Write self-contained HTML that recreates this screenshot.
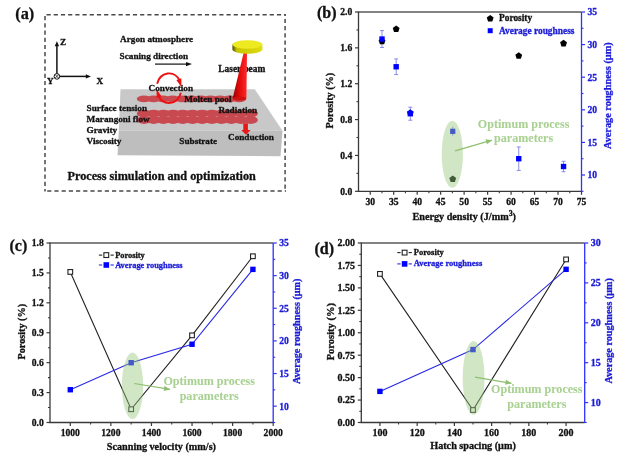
<!DOCTYPE html><html><head><meta charset="utf-8"><style>html,body{margin:0;padding:0;background:#fff;}svg{display:block;filter:blur(0.35px);}</style></head><body>
<svg width="618" height="459" viewBox="0 0 618 459">
<rect width="618" height="459" fill="#fff"/>
<line x1="358.5" y1="12" x2="581.5" y2="12" stroke="#5a5a5a" stroke-width="1.4"/>
<line x1="358.5" y1="11.5" x2="358.5" y2="191.9" stroke="#3a3a3a" stroke-width="1.3"/>
<line x1="357.9" y1="191.3" x2="581.5" y2="191.3" stroke="#3a3a3a" stroke-width="1.3"/>
<line x1="581.5" y1="12" x2="581.5" y2="191.9" stroke="#3030ff" stroke-width="1.3"/>
<line x1="355.0" y1="191.30" x2="358.5" y2="191.30" stroke="#3a3a3a" stroke-width="1.2"/>
<text x="352.3" y="194.70" text-anchor="end" font-size="9.6" font-family="&quot;Liberation Serif&quot;, serif" font-weight="bold" fill="#111" stroke="#111" stroke-width="0.3">0.0</text>
<line x1="355.0" y1="155.44" x2="358.5" y2="155.44" stroke="#3a3a3a" stroke-width="1.2"/>
<text x="352.3" y="158.84" text-anchor="end" font-size="9.6" font-family="&quot;Liberation Serif&quot;, serif" font-weight="bold" fill="#111" stroke="#111" stroke-width="0.3">0.4</text>
<line x1="355.0" y1="119.58" x2="358.5" y2="119.58" stroke="#3a3a3a" stroke-width="1.2"/>
<text x="352.3" y="122.98" text-anchor="end" font-size="9.6" font-family="&quot;Liberation Serif&quot;, serif" font-weight="bold" fill="#111" stroke="#111" stroke-width="0.3">0.8</text>
<line x1="355.0" y1="83.72" x2="358.5" y2="83.72" stroke="#3a3a3a" stroke-width="1.2"/>
<text x="352.3" y="87.12" text-anchor="end" font-size="9.6" font-family="&quot;Liberation Serif&quot;, serif" font-weight="bold" fill="#111" stroke="#111" stroke-width="0.3">1.2</text>
<line x1="355.0" y1="47.86" x2="358.5" y2="47.86" stroke="#3a3a3a" stroke-width="1.2"/>
<text x="352.3" y="51.26" text-anchor="end" font-size="9.6" font-family="&quot;Liberation Serif&quot;, serif" font-weight="bold" fill="#111" stroke="#111" stroke-width="0.3">1.6</text>
<line x1="355.0" y1="12.00" x2="358.5" y2="12.00" stroke="#3a3a3a" stroke-width="1.2"/>
<text x="352.3" y="15.40" text-anchor="end" font-size="9.6" font-family="&quot;Liberation Serif&quot;, serif" font-weight="bold" fill="#111" stroke="#111" stroke-width="0.3">2.0</text>
<line x1="356.5" y1="173.37" x2="358.5" y2="173.37" stroke="#3a3a3a" stroke-width="1.1"/>
<line x1="356.5" y1="137.51" x2="358.5" y2="137.51" stroke="#3a3a3a" stroke-width="1.1"/>
<line x1="356.5" y1="101.65" x2="358.5" y2="101.65" stroke="#3a3a3a" stroke-width="1.1"/>
<line x1="356.5" y1="65.79" x2="358.5" y2="65.79" stroke="#3a3a3a" stroke-width="1.1"/>
<line x1="356.5" y1="29.93" x2="358.5" y2="29.93" stroke="#3a3a3a" stroke-width="1.1"/>
<line x1="370.24" y1="191.3" x2="370.24" y2="194.8" stroke="#3a3a3a" stroke-width="1.2"/>
<text x="370.24" y="204.90" text-anchor="middle" font-size="9.6" font-family="&quot;Liberation Serif&quot;, serif" font-weight="bold" fill="#111" stroke="#111" stroke-width="0.3">30</text>
<line x1="393.71" y1="191.3" x2="393.71" y2="194.8" stroke="#3a3a3a" stroke-width="1.2"/>
<text x="393.71" y="204.90" text-anchor="middle" font-size="9.6" font-family="&quot;Liberation Serif&quot;, serif" font-weight="bold" fill="#111" stroke="#111" stroke-width="0.3">35</text>
<line x1="417.18" y1="191.3" x2="417.18" y2="194.8" stroke="#3a3a3a" stroke-width="1.2"/>
<text x="417.18" y="204.90" text-anchor="middle" font-size="9.6" font-family="&quot;Liberation Serif&quot;, serif" font-weight="bold" fill="#111" stroke="#111" stroke-width="0.3">40</text>
<line x1="440.66" y1="191.3" x2="440.66" y2="194.8" stroke="#3a3a3a" stroke-width="1.2"/>
<text x="440.66" y="204.90" text-anchor="middle" font-size="9.6" font-family="&quot;Liberation Serif&quot;, serif" font-weight="bold" fill="#111" stroke="#111" stroke-width="0.3">45</text>
<line x1="464.13" y1="191.3" x2="464.13" y2="194.8" stroke="#3a3a3a" stroke-width="1.2"/>
<text x="464.13" y="204.90" text-anchor="middle" font-size="9.6" font-family="&quot;Liberation Serif&quot;, serif" font-weight="bold" fill="#111" stroke="#111" stroke-width="0.3">50</text>
<line x1="487.61" y1="191.3" x2="487.61" y2="194.8" stroke="#3a3a3a" stroke-width="1.2"/>
<text x="487.61" y="204.90" text-anchor="middle" font-size="9.6" font-family="&quot;Liberation Serif&quot;, serif" font-weight="bold" fill="#111" stroke="#111" stroke-width="0.3">55</text>
<line x1="511.08" y1="191.3" x2="511.08" y2="194.8" stroke="#3a3a3a" stroke-width="1.2"/>
<text x="511.08" y="204.90" text-anchor="middle" font-size="9.6" font-family="&quot;Liberation Serif&quot;, serif" font-weight="bold" fill="#111" stroke="#111" stroke-width="0.3">60</text>
<line x1="534.55" y1="191.3" x2="534.55" y2="194.8" stroke="#3a3a3a" stroke-width="1.2"/>
<text x="534.55" y="204.90" text-anchor="middle" font-size="9.6" font-family="&quot;Liberation Serif&quot;, serif" font-weight="bold" fill="#111" stroke="#111" stroke-width="0.3">65</text>
<line x1="558.03" y1="191.3" x2="558.03" y2="194.8" stroke="#3a3a3a" stroke-width="1.2"/>
<text x="558.03" y="204.90" text-anchor="middle" font-size="9.6" font-family="&quot;Liberation Serif&quot;, serif" font-weight="bold" fill="#111" stroke="#111" stroke-width="0.3">70</text>
<line x1="581.50" y1="191.3" x2="581.50" y2="194.8" stroke="#3a3a3a" stroke-width="1.2"/>
<text x="581.50" y="204.90" text-anchor="middle" font-size="9.6" font-family="&quot;Liberation Serif&quot;, serif" font-weight="bold" fill="#111" stroke="#111" stroke-width="0.3">75</text>
<line x1="381.97" y1="191.3" x2="381.97" y2="193.3" stroke="#3a3a3a" stroke-width="1.1"/>
<line x1="405.45" y1="191.3" x2="405.45" y2="193.3" stroke="#3a3a3a" stroke-width="1.1"/>
<line x1="428.92" y1="191.3" x2="428.92" y2="193.3" stroke="#3a3a3a" stroke-width="1.1"/>
<line x1="452.39" y1="191.3" x2="452.39" y2="193.3" stroke="#3a3a3a" stroke-width="1.1"/>
<line x1="475.87" y1="191.3" x2="475.87" y2="193.3" stroke="#3a3a3a" stroke-width="1.1"/>
<line x1="499.34" y1="191.3" x2="499.34" y2="193.3" stroke="#3a3a3a" stroke-width="1.1"/>
<line x1="522.82" y1="191.3" x2="522.82" y2="193.3" stroke="#3a3a3a" stroke-width="1.1"/>
<line x1="546.29" y1="191.3" x2="546.29" y2="193.3" stroke="#3a3a3a" stroke-width="1.1"/>
<line x1="569.76" y1="191.3" x2="569.76" y2="193.3" stroke="#3a3a3a" stroke-width="1.1"/>
<line x1="581.5" y1="175.00" x2="585.0" y2="175.00" stroke="#3030ff" stroke-width="1.2"/>
<text x="587.5" y="178.40" font-size="9.6" font-family="&quot;Liberation Serif&quot;, serif" font-weight="bold" fill="#1c1cd8" stroke="#1c1cd8" stroke-width="0.3">10</text>
<line x1="581.5" y1="142.40" x2="585.0" y2="142.40" stroke="#3030ff" stroke-width="1.2"/>
<text x="587.5" y="145.80" font-size="9.6" font-family="&quot;Liberation Serif&quot;, serif" font-weight="bold" fill="#1c1cd8" stroke="#1c1cd8" stroke-width="0.3">15</text>
<line x1="581.5" y1="109.80" x2="585.0" y2="109.80" stroke="#3030ff" stroke-width="1.2"/>
<text x="587.5" y="113.20" font-size="9.6" font-family="&quot;Liberation Serif&quot;, serif" font-weight="bold" fill="#1c1cd8" stroke="#1c1cd8" stroke-width="0.3">20</text>
<line x1="581.5" y1="77.20" x2="585.0" y2="77.20" stroke="#3030ff" stroke-width="1.2"/>
<text x="587.5" y="80.60" font-size="9.6" font-family="&quot;Liberation Serif&quot;, serif" font-weight="bold" fill="#1c1cd8" stroke="#1c1cd8" stroke-width="0.3">25</text>
<line x1="581.5" y1="44.60" x2="585.0" y2="44.60" stroke="#3030ff" stroke-width="1.2"/>
<text x="587.5" y="48.00" font-size="9.6" font-family="&quot;Liberation Serif&quot;, serif" font-weight="bold" fill="#1c1cd8" stroke="#1c1cd8" stroke-width="0.3">30</text>
<line x1="581.5" y1="12.00" x2="585.0" y2="12.00" stroke="#3030ff" stroke-width="1.2"/>
<text x="587.5" y="15.40" font-size="9.6" font-family="&quot;Liberation Serif&quot;, serif" font-weight="bold" fill="#1c1cd8" stroke="#1c1cd8" stroke-width="0.3">35</text>
<line x1="581.5" y1="191.30" x2="583.5" y2="191.30" stroke="#3030ff" stroke-width="1.1"/>
<line x1="581.5" y1="158.70" x2="583.5" y2="158.70" stroke="#3030ff" stroke-width="1.1"/>
<line x1="581.5" y1="126.10" x2="583.5" y2="126.10" stroke="#3030ff" stroke-width="1.1"/>
<line x1="581.5" y1="93.50" x2="583.5" y2="93.50" stroke="#3030ff" stroke-width="1.1"/>
<line x1="581.5" y1="60.90" x2="583.5" y2="60.90" stroke="#3030ff" stroke-width="1.1"/>
<line x1="581.5" y1="28.30" x2="583.5" y2="28.30" stroke="#3030ff" stroke-width="1.1"/>
<text x="464.2" y="220.0" text-anchor="middle" font-size="10.2" font-family="&quot;Liberation Serif&quot;, serif" font-weight="bold" fill="#111" stroke="#111" stroke-width="0.3">Energy density (J/mm<tspan dy="-4.2" font-size="7.8">3</tspan><tspan dy="4">)</tspan></text>
<text transform="translate(333,100.6) rotate(-90)" text-anchor="middle" font-size="10.2" font-family="&quot;Liberation Serif&quot;, serif" font-weight="bold" fill="#111" stroke="#111" stroke-width="0.3">Porosity (%)</text>
<text transform="translate(611.3,95.7) rotate(-90)" text-anchor="middle" font-size="10.3" font-family="&quot;Liberation Serif&quot;, serif" font-weight="bold" fill="#1c1cd8" stroke="#1c1cd8" stroke-width="0.3">Average roughness (μm)</text>
<text x="317" y="18.2" font-size="16" font-family="&quot;Liberation Serif&quot;, serif" font-weight="bold" fill="#111" stroke="#111" stroke-width="0.3">(b)</text>
<line x1="382.02" y1="30.58" x2="382.02" y2="47.53" stroke="#7070e0" stroke-width="0.8"/>
<line x1="380.02" y1="30.58" x2="384.02" y2="30.58" stroke="#7070e0" stroke-width="0.8"/>
<line x1="380.02" y1="47.53" x2="384.02" y2="47.53" stroke="#7070e0" stroke-width="0.8"/>
<line x1="396.17" y1="58.94" x2="396.17" y2="74.59" stroke="#7070e0" stroke-width="0.8"/>
<line x1="394.17" y1="58.94" x2="398.17" y2="58.94" stroke="#7070e0" stroke-width="0.8"/>
<line x1="394.17" y1="74.59" x2="398.17" y2="74.59" stroke="#7070e0" stroke-width="0.8"/>
<line x1="410.31" y1="107.19" x2="410.31" y2="120.23" stroke="#7070e0" stroke-width="0.8"/>
<line x1="408.31" y1="107.19" x2="412.31" y2="107.19" stroke="#7070e0" stroke-width="0.8"/>
<line x1="408.31" y1="120.23" x2="412.31" y2="120.23" stroke="#7070e0" stroke-width="0.8"/>
<line x1="518.75" y1="146.96" x2="518.75" y2="170.44" stroke="#7070e0" stroke-width="0.8"/>
<line x1="516.75" y1="146.96" x2="520.75" y2="146.96" stroke="#7070e0" stroke-width="0.8"/>
<line x1="516.75" y1="170.44" x2="520.75" y2="170.44" stroke="#7070e0" stroke-width="0.8"/>
<line x1="563.54" y1="161.31" x2="563.54" y2="171.74" stroke="#7070e0" stroke-width="0.8"/>
<line x1="561.54" y1="161.31" x2="565.54" y2="161.31" stroke="#7070e0" stroke-width="0.8"/>
<line x1="561.54" y1="171.74" x2="565.54" y2="171.74" stroke="#7070e0" stroke-width="0.8"/>
<polygon points="382.02,37.81 385.45,40.29 384.14,44.32 379.91,44.32 378.60,40.29" fill="#000"/>
<polygon points="396.17,25.43 399.59,27.92 398.28,31.95 394.05,31.95 392.74,27.92" fill="#000"/>
<polygon points="518.75,52.24 522.17,54.73 520.87,58.75 516.64,58.75 515.33,54.73" fill="#000"/>
<polygon points="563.54,39.87 566.96,42.35 565.66,46.38 561.43,46.38 560.12,42.35" fill="#000"/>
<polygon points="452.74,175.60 456.17,178.08 454.86,182.11 450.63,182.11 449.32,178.08" fill="#000"/>
<polygon points="410.31,109.31 413.74,111.80 412.43,115.82 408.20,115.82 406.89,111.80" fill="#0000ee"/>
<rect x="379.32" y="36.36" width="5.4" height="5.4" fill="#0000ff"/>
<rect x="393.47" y="64.07" width="5.4" height="5.4" fill="#0000ff"/>
<rect x="407.61" y="111.01" width="5.4" height="5.4" fill="#0000ff"/>
<rect x="516.05" y="156.00" width="5.4" height="5.4" fill="#0000ff"/>
<rect x="560.84" y="163.82" width="5.4" height="5.4" fill="#0000ff"/>
<line x1="452.74" y1="126.75" x2="452.74" y2="135.88" stroke="#7070e0" stroke-width="0.8"/>
<rect x="450.14" y="128.72" width="5.2" height="5.2" fill="#0000ff"/>
<polygon points="490.20,15.00 493.62,17.49 492.32,21.51 488.08,21.51 486.78,17.49" fill="#000"/>
<text x="499" y="21.3" font-size="9.4" font-family="&quot;Liberation Serif&quot;, serif" font-weight="bold" fill="#111" stroke="#111" stroke-width="0.3">Porosity</text>
<rect x="487.70" y="28.20" width="5.0" height="5.0" fill="#0000ff"/>
<text x="499" y="33.7" font-size="9.4" font-family="&quot;Liberation Serif&quot;, serif" font-weight="bold" fill="#1c1cd8" stroke="#1c1cd8" stroke-width="0.3">Average roughness</text>
<ellipse cx="452.3" cy="154.3" rx="10.6" ry="33.5" fill="rgb(150,200,125)" fill-opacity="0.45"/>
<line x1="455.1" y1="150.8" x2="492" y2="140.2" stroke="#8fbf70" stroke-width="1.2"/>
<polygon points="492.00,140.20 486.95,144.36 485.52,139.36" fill="#8fbf70"/>
<text x="523.6" y="127.9" text-anchor="middle" font-size="12.1" font-family="&quot;Liberation Serif&quot;, serif" font-weight="bold" fill="#a9d192" stroke="#a9d192" stroke-width="0.05">Optimum process</text>
<text x="523.6" y="141.5" text-anchor="middle" font-size="12.1" font-family="&quot;Liberation Serif&quot;, serif" font-weight="bold" fill="#a9d192" stroke="#a9d192" stroke-width="0.05">parameters</text>
<line x1="50" y1="243" x2="273.2" y2="243" stroke="#5a5a5a" stroke-width="1.4"/>
<line x1="50" y1="242.5" x2="50" y2="423.1" stroke="#3a3a3a" stroke-width="1.3"/>
<line x1="49.4" y1="422.5" x2="273.2" y2="422.5" stroke="#3a3a3a" stroke-width="1.3"/>
<line x1="273.2" y1="243" x2="273.2" y2="423.1" stroke="#3030ff" stroke-width="1.3"/>
<line x1="46.5" y1="422.50" x2="50" y2="422.50" stroke="#3a3a3a" stroke-width="1.2"/>
<text x="43.8" y="425.90" text-anchor="end" font-size="9.6" font-family="&quot;Liberation Serif&quot;, serif" font-weight="bold" fill="#111" stroke="#111" stroke-width="0.3">0.0</text>
<line x1="46.5" y1="392.58" x2="50" y2="392.58" stroke="#3a3a3a" stroke-width="1.2"/>
<text x="43.8" y="395.98" text-anchor="end" font-size="9.6" font-family="&quot;Liberation Serif&quot;, serif" font-weight="bold" fill="#111" stroke="#111" stroke-width="0.3">0.3</text>
<line x1="46.5" y1="362.67" x2="50" y2="362.67" stroke="#3a3a3a" stroke-width="1.2"/>
<text x="43.8" y="366.07" text-anchor="end" font-size="9.6" font-family="&quot;Liberation Serif&quot;, serif" font-weight="bold" fill="#111" stroke="#111" stroke-width="0.3">0.6</text>
<line x1="46.5" y1="332.75" x2="50" y2="332.75" stroke="#3a3a3a" stroke-width="1.2"/>
<text x="43.8" y="336.15" text-anchor="end" font-size="9.6" font-family="&quot;Liberation Serif&quot;, serif" font-weight="bold" fill="#111" stroke="#111" stroke-width="0.3">0.9</text>
<line x1="46.5" y1="302.83" x2="50" y2="302.83" stroke="#3a3a3a" stroke-width="1.2"/>
<text x="43.8" y="306.23" text-anchor="end" font-size="9.6" font-family="&quot;Liberation Serif&quot;, serif" font-weight="bold" fill="#111" stroke="#111" stroke-width="0.3">1.2</text>
<line x1="46.5" y1="272.92" x2="50" y2="272.92" stroke="#3a3a3a" stroke-width="1.2"/>
<text x="43.8" y="276.32" text-anchor="end" font-size="9.6" font-family="&quot;Liberation Serif&quot;, serif" font-weight="bold" fill="#111" stroke="#111" stroke-width="0.3">1.5</text>
<line x1="46.5" y1="243.00" x2="50" y2="243.00" stroke="#3a3a3a" stroke-width="1.2"/>
<text x="43.8" y="246.40" text-anchor="end" font-size="9.6" font-family="&quot;Liberation Serif&quot;, serif" font-weight="bold" fill="#111" stroke="#111" stroke-width="0.3">1.8</text>
<line x1="48" y1="407.54" x2="50" y2="407.54" stroke="#3a3a3a" stroke-width="1.1"/>
<line x1="48" y1="377.62" x2="50" y2="377.62" stroke="#3a3a3a" stroke-width="1.1"/>
<line x1="48" y1="347.71" x2="50" y2="347.71" stroke="#3a3a3a" stroke-width="1.1"/>
<line x1="48" y1="317.79" x2="50" y2="317.79" stroke="#3a3a3a" stroke-width="1.1"/>
<line x1="48" y1="287.88" x2="50" y2="287.88" stroke="#3a3a3a" stroke-width="1.1"/>
<line x1="48" y1="257.96" x2="50" y2="257.96" stroke="#3a3a3a" stroke-width="1.1"/>
<line x1="70.29" y1="422.5" x2="70.29" y2="426.0" stroke="#3a3a3a" stroke-width="1.2"/>
<text x="70.29" y="436.10" text-anchor="middle" font-size="9.6" font-family="&quot;Liberation Serif&quot;, serif" font-weight="bold" fill="#111" stroke="#111" stroke-width="0.3">1000</text>
<line x1="110.87" y1="422.5" x2="110.87" y2="426.0" stroke="#3a3a3a" stroke-width="1.2"/>
<text x="110.87" y="436.10" text-anchor="middle" font-size="9.6" font-family="&quot;Liberation Serif&quot;, serif" font-weight="bold" fill="#111" stroke="#111" stroke-width="0.3">1200</text>
<line x1="151.45" y1="422.5" x2="151.45" y2="426.0" stroke="#3a3a3a" stroke-width="1.2"/>
<text x="151.45" y="436.10" text-anchor="middle" font-size="9.6" font-family="&quot;Liberation Serif&quot;, serif" font-weight="bold" fill="#111" stroke="#111" stroke-width="0.3">1400</text>
<line x1="192.04" y1="422.5" x2="192.04" y2="426.0" stroke="#3a3a3a" stroke-width="1.2"/>
<text x="192.04" y="436.10" text-anchor="middle" font-size="9.6" font-family="&quot;Liberation Serif&quot;, serif" font-weight="bold" fill="#111" stroke="#111" stroke-width="0.3">1600</text>
<line x1="232.62" y1="422.5" x2="232.62" y2="426.0" stroke="#3a3a3a" stroke-width="1.2"/>
<text x="232.62" y="436.10" text-anchor="middle" font-size="9.6" font-family="&quot;Liberation Serif&quot;, serif" font-weight="bold" fill="#111" stroke="#111" stroke-width="0.3">1800</text>
<line x1="273.20" y1="422.5" x2="273.20" y2="426.0" stroke="#3a3a3a" stroke-width="1.2"/>
<text x="273.20" y="436.10" text-anchor="middle" font-size="9.6" font-family="&quot;Liberation Serif&quot;, serif" font-weight="bold" fill="#111" stroke="#111" stroke-width="0.3">2000</text>
<line x1="90.58" y1="422.5" x2="90.58" y2="424.5" stroke="#3a3a3a" stroke-width="1.1"/>
<line x1="131.16" y1="422.5" x2="131.16" y2="424.5" stroke="#3a3a3a" stroke-width="1.1"/>
<line x1="171.75" y1="422.5" x2="171.75" y2="424.5" stroke="#3a3a3a" stroke-width="1.1"/>
<line x1="212.33" y1="422.5" x2="212.33" y2="424.5" stroke="#3a3a3a" stroke-width="1.1"/>
<line x1="252.91" y1="422.5" x2="252.91" y2="424.5" stroke="#3a3a3a" stroke-width="1.1"/>
<line x1="273.2" y1="406.18" x2="276.7" y2="406.18" stroke="#3030ff" stroke-width="1.2"/>
<text x="279.2" y="409.58" font-size="9.6" font-family="&quot;Liberation Serif&quot;, serif" font-weight="bold" fill="#1c1cd8" stroke="#1c1cd8" stroke-width="0.3">10</text>
<line x1="273.2" y1="373.55" x2="276.7" y2="373.55" stroke="#3030ff" stroke-width="1.2"/>
<text x="279.2" y="376.95" font-size="9.6" font-family="&quot;Liberation Serif&quot;, serif" font-weight="bold" fill="#1c1cd8" stroke="#1c1cd8" stroke-width="0.3">15</text>
<line x1="273.2" y1="340.91" x2="276.7" y2="340.91" stroke="#3030ff" stroke-width="1.2"/>
<text x="279.2" y="344.31" font-size="9.6" font-family="&quot;Liberation Serif&quot;, serif" font-weight="bold" fill="#1c1cd8" stroke="#1c1cd8" stroke-width="0.3">20</text>
<line x1="273.2" y1="308.27" x2="276.7" y2="308.27" stroke="#3030ff" stroke-width="1.2"/>
<text x="279.2" y="311.67" font-size="9.6" font-family="&quot;Liberation Serif&quot;, serif" font-weight="bold" fill="#1c1cd8" stroke="#1c1cd8" stroke-width="0.3">25</text>
<line x1="273.2" y1="275.64" x2="276.7" y2="275.64" stroke="#3030ff" stroke-width="1.2"/>
<text x="279.2" y="279.04" font-size="9.6" font-family="&quot;Liberation Serif&quot;, serif" font-weight="bold" fill="#1c1cd8" stroke="#1c1cd8" stroke-width="0.3">30</text>
<line x1="273.2" y1="243.00" x2="276.7" y2="243.00" stroke="#3030ff" stroke-width="1.2"/>
<text x="279.2" y="246.40" font-size="9.6" font-family="&quot;Liberation Serif&quot;, serif" font-weight="bold" fill="#1c1cd8" stroke="#1c1cd8" stroke-width="0.3">35</text>
<line x1="273.2" y1="422.50" x2="275.2" y2="422.50" stroke="#3030ff" stroke-width="1.1"/>
<line x1="273.2" y1="389.86" x2="275.2" y2="389.86" stroke="#3030ff" stroke-width="1.1"/>
<line x1="273.2" y1="357.23" x2="275.2" y2="357.23" stroke="#3030ff" stroke-width="1.1"/>
<line x1="273.2" y1="324.59" x2="275.2" y2="324.59" stroke="#3030ff" stroke-width="1.1"/>
<line x1="273.2" y1="291.95" x2="275.2" y2="291.95" stroke="#3030ff" stroke-width="1.1"/>
<line x1="273.2" y1="259.32" x2="275.2" y2="259.32" stroke="#3030ff" stroke-width="1.1"/>
<text x="161.4" y="450.0" text-anchor="middle" font-size="10.2" font-family="&quot;Liberation Serif&quot;, serif" font-weight="bold" fill="#111" stroke="#111" stroke-width="0.3">Scanning velocity (mm/s)</text>
<text transform="translate(24.8,331.7) rotate(-90)" text-anchor="middle" font-size="10.2" font-family="&quot;Liberation Serif&quot;, serif" font-weight="bold" fill="#111" stroke="#111" stroke-width="0.3">Porosity (%)</text>
<text transform="translate(300,331.3) rotate(-90)" text-anchor="middle" font-size="10.2" font-family="&quot;Liberation Serif&quot;, serif" font-weight="bold" fill="#1c1cd8" stroke="#1c1cd8" stroke-width="0.3">Average roughness (μm)</text>
<text x="9.5" y="251.2" font-size="16" font-family="&quot;Liberation Serif&quot;, serif" font-weight="bold" fill="#111" stroke="#111" stroke-width="0.3">(c)</text>
<polyline points="70.29,271.92 131.16,409.24 192.04,335.34 252.91,256.26" fill="none" stroke="#222" stroke-width="1.1"/>
<polyline points="70.29,389.73 131.16,362.71 192.04,344.24 252.91,269.37" fill="none" stroke="#2828e8" stroke-width="1.1"/>
<rect x="67.94" y="269.57" width="4.7" height="4.7" fill="#fff" stroke="#222" stroke-width="1.1"/>
<rect x="128.81" y="406.89" width="4.7" height="4.7" fill="#fff" stroke="#222" stroke-width="1.1"/>
<rect x="189.69" y="332.99" width="4.7" height="4.7" fill="#fff" stroke="#222" stroke-width="1.1"/>
<rect x="250.56" y="253.91" width="4.7" height="4.7" fill="#fff" stroke="#222" stroke-width="1.1"/>
<rect x="67.59" y="387.03" width="5.4" height="5.4" fill="#0000ff"/>
<rect x="128.46" y="360.01" width="5.4" height="5.4" fill="#0000ff"/>
<rect x="189.34" y="341.54" width="5.4" height="5.4" fill="#0000ff"/>
<rect x="250.21" y="266.67" width="5.4" height="5.4" fill="#0000ff"/>
<line x1="98.9" y1="255.1" x2="102.2" y2="255.1" stroke="#222" stroke-width="1.1"/><line x1="110.5" y1="255.1" x2="113.8" y2="255.1" stroke="#222" stroke-width="1.1"/>
<rect x="103.90" y="252.70" width="4.8" height="4.8" fill="#fff" stroke="#222" stroke-width="1.1"/>
<text x="115.2" y="257.6" font-size="8.4" font-family="&quot;Liberation Serif&quot;, serif" font-weight="bold" fill="#111" stroke="#111" stroke-width="0.3">Porosity</text>
<line x1="98.9" y1="265" x2="102.2" y2="265" stroke="#2828e8" stroke-width="1.1"/><line x1="110.5" y1="265" x2="113.8" y2="265" stroke="#2828e8" stroke-width="1.1"/>
<rect x="103.50" y="262.20" width="5.6" height="5.6" fill="#0000ff"/>
<text x="115.2" y="267.8" font-size="8.4" font-family="&quot;Liberation Serif&quot;, serif" font-weight="bold" fill="#1c1cd8" stroke="#1c1cd8" stroke-width="0.3">Average roughness</text>
<ellipse cx="132.5" cy="385.7" rx="10.6" ry="33.3" fill="rgb(150,200,125)" fill-opacity="0.45"/>
<line x1="134.3" y1="383.5" x2="170" y2="389.4" stroke="#8fbf70" stroke-width="1.2"/>
<polygon points="170.00,389.40 163.66,390.99 164.50,385.86" fill="#8fbf70"/>
<text x="209.2" y="385.1" text-anchor="middle" font-size="12.1" font-family="&quot;Liberation Serif&quot;, serif" font-weight="bold" fill="#a9d192" stroke="#a9d192" stroke-width="0.05">Optimum process</text>
<text x="209.2" y="399.6" text-anchor="middle" font-size="12.1" font-family="&quot;Liberation Serif&quot;, serif" font-weight="bold" fill="#a9d192" stroke="#a9d192" stroke-width="0.05">parameters</text>
<line x1="361.3" y1="243" x2="584.7" y2="243" stroke="#5a5a5a" stroke-width="1.4"/>
<line x1="361.3" y1="242.5" x2="361.3" y2="423.1" stroke="#3a3a3a" stroke-width="1.3"/>
<line x1="360.7" y1="422.5" x2="584.7" y2="422.5" stroke="#3a3a3a" stroke-width="1.3"/>
<line x1="584.7" y1="243" x2="584.7" y2="423.1" stroke="#3030ff" stroke-width="1.3"/>
<line x1="357.8" y1="422.50" x2="361.3" y2="422.50" stroke="#3a3a3a" stroke-width="1.2"/>
<text x="355.1" y="425.90" text-anchor="end" font-size="10" font-family="&quot;Liberation Serif&quot;, serif" font-weight="bold" fill="#111" stroke="#111" stroke-width="0.3">0.00</text>
<line x1="357.8" y1="400.06" x2="361.3" y2="400.06" stroke="#3a3a3a" stroke-width="1.2"/>
<text x="355.1" y="403.46" text-anchor="end" font-size="10" font-family="&quot;Liberation Serif&quot;, serif" font-weight="bold" fill="#111" stroke="#111" stroke-width="0.3">0.25</text>
<line x1="357.8" y1="377.62" x2="361.3" y2="377.62" stroke="#3a3a3a" stroke-width="1.2"/>
<text x="355.1" y="381.02" text-anchor="end" font-size="10" font-family="&quot;Liberation Serif&quot;, serif" font-weight="bold" fill="#111" stroke="#111" stroke-width="0.3">0.50</text>
<line x1="357.8" y1="355.19" x2="361.3" y2="355.19" stroke="#3a3a3a" stroke-width="1.2"/>
<text x="355.1" y="358.59" text-anchor="end" font-size="10" font-family="&quot;Liberation Serif&quot;, serif" font-weight="bold" fill="#111" stroke="#111" stroke-width="0.3">0.75</text>
<line x1="357.8" y1="332.75" x2="361.3" y2="332.75" stroke="#3a3a3a" stroke-width="1.2"/>
<text x="355.1" y="336.15" text-anchor="end" font-size="10" font-family="&quot;Liberation Serif&quot;, serif" font-weight="bold" fill="#111" stroke="#111" stroke-width="0.3">1.00</text>
<line x1="357.8" y1="310.31" x2="361.3" y2="310.31" stroke="#3a3a3a" stroke-width="1.2"/>
<text x="355.1" y="313.71" text-anchor="end" font-size="10" font-family="&quot;Liberation Serif&quot;, serif" font-weight="bold" fill="#111" stroke="#111" stroke-width="0.3">1.25</text>
<line x1="357.8" y1="287.88" x2="361.3" y2="287.88" stroke="#3a3a3a" stroke-width="1.2"/>
<text x="355.1" y="291.27" text-anchor="end" font-size="10" font-family="&quot;Liberation Serif&quot;, serif" font-weight="bold" fill="#111" stroke="#111" stroke-width="0.3">1.50</text>
<line x1="357.8" y1="265.44" x2="361.3" y2="265.44" stroke="#3a3a3a" stroke-width="1.2"/>
<text x="355.1" y="268.84" text-anchor="end" font-size="10" font-family="&quot;Liberation Serif&quot;, serif" font-weight="bold" fill="#111" stroke="#111" stroke-width="0.3">1.75</text>
<line x1="357.8" y1="243.00" x2="361.3" y2="243.00" stroke="#3a3a3a" stroke-width="1.2"/>
<text x="355.1" y="246.40" text-anchor="end" font-size="10" font-family="&quot;Liberation Serif&quot;, serif" font-weight="bold" fill="#111" stroke="#111" stroke-width="0.3">2.00</text>
<line x1="359.3" y1="411.28" x2="361.3" y2="411.28" stroke="#3a3a3a" stroke-width="1.1"/>
<line x1="359.3" y1="388.84" x2="361.3" y2="388.84" stroke="#3a3a3a" stroke-width="1.1"/>
<line x1="359.3" y1="366.41" x2="361.3" y2="366.41" stroke="#3a3a3a" stroke-width="1.1"/>
<line x1="359.3" y1="343.97" x2="361.3" y2="343.97" stroke="#3a3a3a" stroke-width="1.1"/>
<line x1="359.3" y1="321.53" x2="361.3" y2="321.53" stroke="#3a3a3a" stroke-width="1.1"/>
<line x1="359.3" y1="299.09" x2="361.3" y2="299.09" stroke="#3a3a3a" stroke-width="1.1"/>
<line x1="359.3" y1="276.66" x2="361.3" y2="276.66" stroke="#3a3a3a" stroke-width="1.1"/>
<line x1="359.3" y1="254.22" x2="361.3" y2="254.22" stroke="#3a3a3a" stroke-width="1.1"/>
<line x1="379.92" y1="422.5" x2="379.92" y2="426.0" stroke="#3a3a3a" stroke-width="1.2"/>
<text x="379.92" y="436.10" text-anchor="middle" font-size="10" font-family="&quot;Liberation Serif&quot;, serif" font-weight="bold" fill="#111" stroke="#111" stroke-width="0.3">100</text>
<line x1="417.15" y1="422.5" x2="417.15" y2="426.0" stroke="#3a3a3a" stroke-width="1.2"/>
<text x="417.15" y="436.10" text-anchor="middle" font-size="10" font-family="&quot;Liberation Serif&quot;, serif" font-weight="bold" fill="#111" stroke="#111" stroke-width="0.3">120</text>
<line x1="454.38" y1="422.5" x2="454.38" y2="426.0" stroke="#3a3a3a" stroke-width="1.2"/>
<text x="454.38" y="436.10" text-anchor="middle" font-size="10" font-family="&quot;Liberation Serif&quot;, serif" font-weight="bold" fill="#111" stroke="#111" stroke-width="0.3">140</text>
<line x1="491.62" y1="422.5" x2="491.62" y2="426.0" stroke="#3a3a3a" stroke-width="1.2"/>
<text x="491.62" y="436.10" text-anchor="middle" font-size="10" font-family="&quot;Liberation Serif&quot;, serif" font-weight="bold" fill="#111" stroke="#111" stroke-width="0.3">160</text>
<line x1="528.85" y1="422.5" x2="528.85" y2="426.0" stroke="#3a3a3a" stroke-width="1.2"/>
<text x="528.85" y="436.10" text-anchor="middle" font-size="10" font-family="&quot;Liberation Serif&quot;, serif" font-weight="bold" fill="#111" stroke="#111" stroke-width="0.3">180</text>
<line x1="566.08" y1="422.5" x2="566.08" y2="426.0" stroke="#3a3a3a" stroke-width="1.2"/>
<text x="566.08" y="436.10" text-anchor="middle" font-size="10" font-family="&quot;Liberation Serif&quot;, serif" font-weight="bold" fill="#111" stroke="#111" stroke-width="0.3">200</text>
<line x1="398.53" y1="422.5" x2="398.53" y2="424.5" stroke="#3a3a3a" stroke-width="1.1"/>
<line x1="435.77" y1="422.5" x2="435.77" y2="424.5" stroke="#3a3a3a" stroke-width="1.1"/>
<line x1="473.00" y1="422.5" x2="473.00" y2="424.5" stroke="#3a3a3a" stroke-width="1.1"/>
<line x1="510.23" y1="422.5" x2="510.23" y2="424.5" stroke="#3a3a3a" stroke-width="1.1"/>
<line x1="547.47" y1="422.5" x2="547.47" y2="424.5" stroke="#3a3a3a" stroke-width="1.1"/>
<line x1="584.7" y1="402.56" x2="588.2" y2="402.56" stroke="#3030ff" stroke-width="1.2"/>
<text x="590.7" y="405.96" font-size="10" font-family="&quot;Liberation Serif&quot;, serif" font-weight="bold" fill="#1c1cd8" stroke="#1c1cd8" stroke-width="0.3">10</text>
<line x1="584.7" y1="362.67" x2="588.2" y2="362.67" stroke="#3030ff" stroke-width="1.2"/>
<text x="590.7" y="366.07" font-size="10" font-family="&quot;Liberation Serif&quot;, serif" font-weight="bold" fill="#1c1cd8" stroke="#1c1cd8" stroke-width="0.3">15</text>
<line x1="584.7" y1="322.78" x2="588.2" y2="322.78" stroke="#3030ff" stroke-width="1.2"/>
<text x="590.7" y="326.18" font-size="10" font-family="&quot;Liberation Serif&quot;, serif" font-weight="bold" fill="#1c1cd8" stroke="#1c1cd8" stroke-width="0.3">20</text>
<line x1="584.7" y1="282.89" x2="588.2" y2="282.89" stroke="#3030ff" stroke-width="1.2"/>
<text x="590.7" y="286.29" font-size="10" font-family="&quot;Liberation Serif&quot;, serif" font-weight="bold" fill="#1c1cd8" stroke="#1c1cd8" stroke-width="0.3">25</text>
<line x1="584.7" y1="243.00" x2="588.2" y2="243.00" stroke="#3030ff" stroke-width="1.2"/>
<text x="590.7" y="246.40" font-size="10" font-family="&quot;Liberation Serif&quot;, serif" font-weight="bold" fill="#1c1cd8" stroke="#1c1cd8" stroke-width="0.3">30</text>
<line x1="584.7" y1="422.50" x2="586.7" y2="422.50" stroke="#3030ff" stroke-width="1.1"/>
<line x1="584.7" y1="382.61" x2="586.7" y2="382.61" stroke="#3030ff" stroke-width="1.1"/>
<line x1="584.7" y1="342.72" x2="586.7" y2="342.72" stroke="#3030ff" stroke-width="1.1"/>
<line x1="584.7" y1="302.83" x2="586.7" y2="302.83" stroke="#3030ff" stroke-width="1.1"/>
<line x1="584.7" y1="262.94" x2="586.7" y2="262.94" stroke="#3030ff" stroke-width="1.1"/>
<text x="473" y="448.8" text-anchor="middle" font-size="10.2" font-family="&quot;Liberation Serif&quot;, serif" font-weight="bold" fill="#111" stroke="#111" stroke-width="0.3">Hatch spacing (μm)</text>
<text transform="translate(333.5,331.7) rotate(-90)" text-anchor="middle" font-size="10.5" font-family="&quot;Liberation Serif&quot;, serif" font-weight="bold" fill="#111" stroke="#111" stroke-width="0.3">Porosity (%)</text>
<text transform="translate(612.3,330.8) rotate(-90)" text-anchor="middle" font-size="10.2" font-family="&quot;Liberation Serif&quot;, serif" font-weight="bold" fill="#1c1cd8" stroke="#1c1cd8" stroke-width="0.3">Average roughness (μm)</text>
<text x="314.5" y="253.6" font-size="16" font-family="&quot;Liberation Serif&quot;, serif" font-weight="bold" fill="#111" stroke="#111" stroke-width="0.3">(d)</text>
<polyline points="379.92,273.87 473.00,410.02 566.08,259.42" fill="none" stroke="#222" stroke-width="1.1"/>
<polyline points="379.92,391.39 473.00,349.58 566.08,269.33" fill="none" stroke="#2828e8" stroke-width="1.1"/>
<rect x="377.57" y="271.52" width="4.7" height="4.7" fill="#fff" stroke="#222" stroke-width="1.1"/>
<rect x="470.65" y="407.67" width="4.7" height="4.7" fill="#fff" stroke="#222" stroke-width="1.1"/>
<rect x="563.73" y="257.07" width="4.7" height="4.7" fill="#fff" stroke="#222" stroke-width="1.1"/>
<rect x="377.22" y="388.69" width="5.4" height="5.4" fill="#0000ff"/>
<rect x="470.30" y="346.88" width="5.4" height="5.4" fill="#0000ff"/>
<rect x="563.38" y="266.63" width="5.4" height="5.4" fill="#0000ff"/>
<line x1="397.3" y1="252.6" x2="400.6" y2="252.6" stroke="#222" stroke-width="1.1"/><line x1="408.6" y1="252.6" x2="411.9" y2="252.6" stroke="#222" stroke-width="1.1"/>
<rect x="402.20" y="250.20" width="4.8" height="4.8" fill="#fff" stroke="#222" stroke-width="1.1"/>
<text x="413.8" y="254.9" font-size="8.5" font-family="&quot;Liberation Serif&quot;, serif" font-weight="bold" fill="#111" stroke="#111" stroke-width="0.3">Porosity</text>
<line x1="397.3" y1="263.9" x2="400.6" y2="263.9" stroke="#2828e8" stroke-width="1.1"/><line x1="408.6" y1="263.9" x2="411.9" y2="263.9" stroke="#2828e8" stroke-width="1.1"/>
<rect x="401.80" y="261.10" width="5.6" height="5.6" fill="#0000ff"/>
<text x="413.8" y="266" font-size="8.5" font-family="&quot;Liberation Serif&quot;, serif" font-weight="bold" fill="#1c1cd8" stroke="#1c1cd8" stroke-width="0.3">Average roughness</text>
<ellipse cx="473.6" cy="377.9" rx="10.9" ry="37" fill="rgb(150,200,125)" fill-opacity="0.45"/>
<line x1="475" y1="377.1" x2="511.5" y2="383.3" stroke="#8fbf70" stroke-width="1.2"/>
<polygon points="511.50,383.30 505.15,384.86 506.02,379.73" fill="#8fbf70"/>
<text x="536.8" y="393.3" text-anchor="middle" font-size="12.1" font-family="&quot;Liberation Serif&quot;, serif" font-weight="bold" fill="#a9d192" stroke="#a9d192" stroke-width="0.05">Optimum process</text>
<text x="536.8" y="407.9" text-anchor="middle" font-size="12.1" font-family="&quot;Liberation Serif&quot;, serif" font-weight="bold" fill="#a9d192" stroke="#a9d192" stroke-width="0.05">parameters</text>
<text x="15.3" y="19.4" font-size="16.3" font-family="&quot;Liberation Serif&quot;, serif" font-weight="bold" fill="#111" stroke="#111" stroke-width="0.3">(a)</text>
<path d="M45,14.8 H285.9" stroke="#4a4a4a" stroke-width="1.5" stroke-dasharray="4.2,3" stroke-dashoffset="5.7"/>
<path d="M285.1,14.8 V190.9" stroke="#4a4a4a" stroke-width="1.5" stroke-dasharray="4.2,3" stroke-dashoffset="3.1"/>
<path d="M45,190.9 H286" stroke="#4a4a4a" stroke-width="1.5" stroke-dasharray="4.2,3" stroke-dashoffset="5.0"/>
<path d="M45,14.8 V191.6" stroke="#4a4a4a" stroke-width="1.5" stroke-dasharray="4.2,3" stroke-dashoffset="5.9"/>
<line x1="56.9" y1="76.4" x2="56.9" y2="45" stroke="#111" stroke-width="1.5"/>
<polygon points="56.9,41.3 54.7,46.3 59.1,46.3" fill="#111"/>
<line x1="56.9" y1="76.4" x2="87" y2="76.4" stroke="#111" stroke-width="1.5"/>
<polygon points="91,76.4 85.8,74.2 85.8,78.6" fill="#111"/>
<circle cx="56.9" cy="76.4" r="2.8" fill="#fff" stroke="#111" stroke-width="1"/>
<path d="M55.2,74.7 L58.6,78.1 M58.6,74.7 L55.2,78.1" stroke="#111" stroke-width="0.8"/>
<text x="60" y="44.8" font-size="9.2" font-family="&quot;Liberation Serif&quot;, serif" font-weight="bold" fill="#111" stroke="#111" stroke-width="0.3">Z</text>
<text x="96.4" y="83.6" font-size="9.2" font-family="&quot;Liberation Serif&quot;, serif" font-weight="bold" fill="#111" stroke="#111" stroke-width="0.3">X</text>
<text x="47" y="83.6" font-size="9.2" font-family="&quot;Liberation Serif&quot;, serif" font-weight="bold" fill="#111" stroke="#111" stroke-width="0.3">Y</text>
<polygon points="120.5,89.2 254.8,89.2 282.5,130.8 118.8,130.8" fill="#c8c8c8"/>
<polygon points="118.8,130.8 282.5,130.8 280.5,156.2 117.5,155.2" fill="#bebebe"/>
<ellipse cx="144.0" cy="98.9" rx="7.2" ry="3.3" fill="#c84a50"/>
<ellipse cx="153.5" cy="98.9" rx="7.2" ry="3.3" fill="#c84a50"/>
<ellipse cx="163.0" cy="98.9" rx="7.2" ry="3.3" fill="#c84a50"/>
<ellipse cx="172.5" cy="98.9" rx="7.2" ry="3.3" fill="#c84a50"/>
<ellipse cx="182.0" cy="98.9" rx="7.2" ry="3.3" fill="#c84a50"/>
<ellipse cx="191.5" cy="98.9" rx="7.2" ry="3.3" fill="#c84a50"/>
<ellipse cx="201.0" cy="98.9" rx="7.2" ry="3.3" fill="#c84a50"/>
<ellipse cx="210.5" cy="98.9" rx="7.2" ry="3.3" fill="#c84a50"/>
<ellipse cx="220.0" cy="98.9" rx="7.2" ry="3.3" fill="#c84a50"/>
<ellipse cx="229.5" cy="98.9" rx="7.2" ry="3.3" fill="#c84a50"/>
<ellipse cx="239.0" cy="98.9" rx="7.2" ry="3.3" fill="#c84a50"/>
<ellipse cx="144.0" cy="113.6" rx="7.2" ry="3.9" fill="#c84a50"/>
<ellipse cx="153.7" cy="113.6" rx="7.2" ry="3.9" fill="#c84a50"/>
<ellipse cx="163.4" cy="113.6" rx="7.2" ry="3.9" fill="#c84a50"/>
<ellipse cx="173.1" cy="113.6" rx="7.2" ry="3.9" fill="#c84a50"/>
<ellipse cx="182.8" cy="113.6" rx="7.2" ry="3.9" fill="#c84a50"/>
<ellipse cx="192.5" cy="113.6" rx="7.2" ry="3.9" fill="#c84a50"/>
<ellipse cx="202.2" cy="113.6" rx="7.2" ry="3.9" fill="#c84a50"/>
<ellipse cx="211.9" cy="113.6" rx="7.2" ry="3.9" fill="#c84a50"/>
<ellipse cx="221.6" cy="113.6" rx="7.2" ry="3.9" fill="#c84a50"/>
<ellipse cx="231.3" cy="113.6" rx="7.2" ry="3.9" fill="#c84a50"/>
<ellipse cx="241.0" cy="113.6" rx="7.2" ry="3.9" fill="#c84a50"/>
<ellipse cx="250.7" cy="113.6" rx="7.2" ry="3.9" fill="#c84a50"/>
<ellipse cx="144.0" cy="120.0" rx="7.2" ry="3.9" fill="#c84a50"/>
<ellipse cx="153.7" cy="120.0" rx="7.2" ry="3.9" fill="#c84a50"/>
<ellipse cx="163.4" cy="120.0" rx="7.2" ry="3.9" fill="#c84a50"/>
<ellipse cx="173.1" cy="120.0" rx="7.2" ry="3.9" fill="#c84a50"/>
<ellipse cx="182.8" cy="120.0" rx="7.2" ry="3.9" fill="#c84a50"/>
<ellipse cx="192.5" cy="120.0" rx="7.2" ry="3.9" fill="#c84a50"/>
<ellipse cx="202.2" cy="120.0" rx="7.2" ry="3.9" fill="#c84a50"/>
<ellipse cx="211.9" cy="120.0" rx="7.2" ry="3.9" fill="#c84a50"/>
<ellipse cx="221.6" cy="120.0" rx="7.2" ry="3.9" fill="#c84a50"/>
<ellipse cx="231.3" cy="120.0" rx="7.2" ry="3.9" fill="#c84a50"/>
<ellipse cx="241.0" cy="120.0" rx="7.2" ry="3.9" fill="#c84a50"/>
<ellipse cx="250.7" cy="120.0" rx="7.2" ry="3.9" fill="#c84a50"/>
<text x="120.1" y="41.8" font-size="9.2" font-family="&quot;Liberation Serif&quot;, serif" font-weight="bold" fill="#111" stroke="#111" stroke-width="0.3" text-anchor="start">Argon atmosphere</text>
<text x="119.6" y="58.7" font-size="9.2" font-family="&quot;Liberation Serif&quot;, serif" font-weight="bold" fill="#111" stroke="#111" stroke-width="0.3" text-anchor="start">Scaning direction</text>
<line x1="155" y1="64.1" x2="187" y2="64.1" stroke="#111" stroke-width="1.2"/>
<polygon points="192,64.1 186,62 186,66.2" fill="#111"/>
<path d="M157.11,83.63 A12.5,14.8 0 0 1 179.60,80.36" fill="none" stroke="#ee1111" stroke-width="1.9"/>
<polygon points="181.47,87.17 176.38,79.89 181.32,78.29" fill="#ee1111"/>
<path d="M180.89,92.77 A12.5,14.8 0 0 1 158.40,96.04" fill="none" stroke="#ee1111" stroke-width="1.9"/>
<polygon points="156.53,89.23 161.62,96.51 156.68,98.11" fill="#ee1111"/>
<text x="148.6" y="90.7" font-size="9.2" font-family="&quot;Liberation Serif&quot;, serif" font-weight="bold" fill="#111" stroke="#111" stroke-width="0.3" text-anchor="start">Convection</text>
<text x="184.3" y="101.8" font-size="9.2" font-family="&quot;Liberation Serif&quot;, serif" font-weight="bold" fill="#111" stroke="#111" stroke-width="0.3" text-anchor="start">Molten pool</text>
<text x="218.4" y="112.6" font-size="9.2" font-family="&quot;Liberation Serif&quot;, serif" font-weight="bold" fill="#111" stroke="#111" stroke-width="0.3" text-anchor="start">Radiation</text>
<text x="86.6" y="110.5" font-size="9.2" font-family="&quot;Liberation Serif&quot;, serif" font-weight="bold" fill="#111" stroke="#111" stroke-width="0.3" text-anchor="start">Surface tension</text>
<text x="86.6" y="121.8" font-size="9.2" font-family="&quot;Liberation Serif&quot;, serif" font-weight="bold" fill="#111" stroke="#111" stroke-width="0.3" text-anchor="start">Marangoni flow</text>
<text x="86.6" y="133.2" font-size="9.2" font-family="&quot;Liberation Serif&quot;, serif" font-weight="bold" fill="#111" stroke="#111" stroke-width="0.3" text-anchor="start">Gravity</text>
<text x="86.6" y="143.6" font-size="9.2" font-family="&quot;Liberation Serif&quot;, serif" font-weight="bold" fill="#111" stroke="#111" stroke-width="0.3" text-anchor="start">Viscosity</text>
<text x="179.3" y="144.1" font-size="9.2" font-family="&quot;Liberation Serif&quot;, serif" font-weight="bold" fill="#111" stroke="#111" stroke-width="0.3" text-anchor="start">Substrate</text>
<rect x="243.3" y="123.3" width="4.6" height="7.2" fill="#e81818"/>
<polygon points="241.2,130 250.6,130 245.9,134.8" fill="#e81818"/>
<text x="228" y="140.4" font-size="9.2" font-family="&quot;Liberation Serif&quot;, serif" font-weight="bold" fill="#111" stroke="#111" stroke-width="0.3" text-anchor="start">Conduction</text>
<text x="218.3" y="71.9" font-size="9.4" font-family="&quot;Liberation Serif&quot;, serif" font-weight="bold" fill="#111" stroke="#111" stroke-width="0.3" text-anchor="start">Laser beam</text>
<defs><linearGradient id="cone" x1="0" x2="1" y1="0" y2="0"><stop offset="0" stop-color="#900000"/><stop offset="0.45" stop-color="#e00808"/><stop offset="1" stop-color="#ff2a2a"/></linearGradient><linearGradient id="disc" x1="0" x2="1" y1="0" y2="0"><stop offset="0" stop-color="#505000"/><stop offset="0.15" stop-color="#c8c400"/><stop offset="1" stop-color="#e0dc10"/></linearGradient></defs>
<polygon points="243.6,53 247,53 246.4,98.5 232.6,98.5" fill="url(#cone)"/>
<ellipse cx="239.5" cy="98.5" rx="6.7" ry="2" fill="#d01010"/>
<path d="M232.4,44.5 L232.4,49.5 A15,4.2 0 0 0 262.4,49.5 L262.4,44.5 Z" fill="url(#disc)"/>
<ellipse cx="247.4" cy="44.5" rx="15" ry="4.2" fill="#eeea22"/>
<text x="67.5" y="180" font-size="12.2" font-family="&quot;Liberation Serif&quot;, serif" font-weight="bold" fill="#111" stroke="#111" stroke-width="0.3" text-anchor="start">Process simulation and optimization</text>
</svg></body></html>
